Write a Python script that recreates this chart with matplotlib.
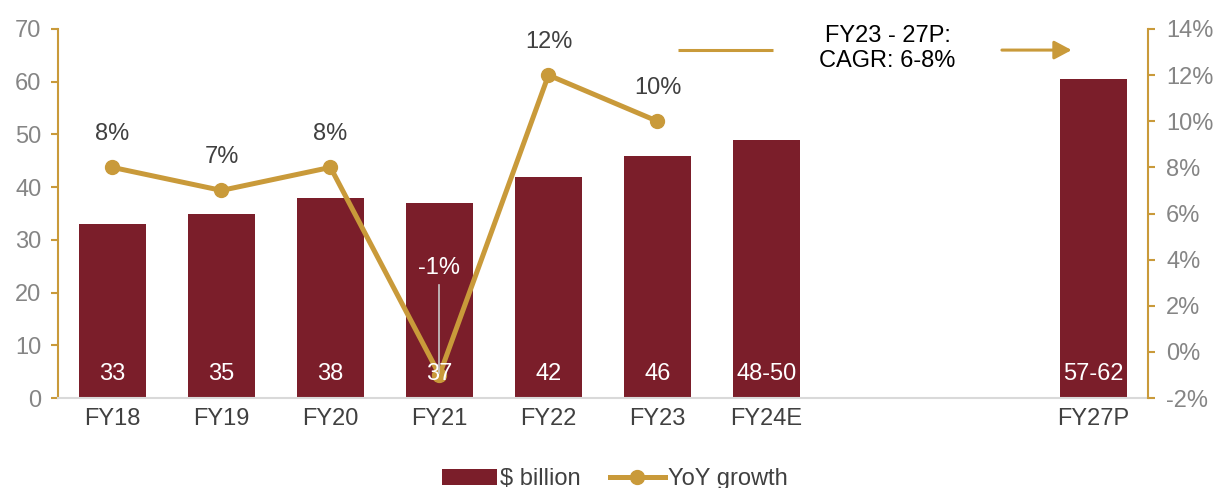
import matplotlib
matplotlib.use("Agg")
import matplotlib.pyplot as plt
from matplotlib.lines import Line2D
from matplotlib.patches import Patch
import numpy as np

plt.rcParams['font.family'] = ['Liberation Sans', 'DejaVu Sans']

categories = ["FY18", "FY19", "FY20", "FY21", "FY22", "FY23", "FY24E", "", "", "FY27P"]
bar_values = [33, 35, 38, 37, 42, 46, 49, None, None, 60.5]
bar_labels = ["33", "35", "38", "37", "42", "46", "48-50", "", "", "57-62"]
growth = [8, 7, 8, -1, 12, 10]
growth_labels = ["8%", "7%", "8%", "-1%", "12%", "10%"]

BAR_C = "#7B1E2A"
LINE_C = "#C99A3A"
GREY = "#858585"
DARK = "#404040"
FS = 17

fig = plt.figure(figsize=(12.18, 4.88), dpi=100)
ax = fig.add_axes([0.0476, 0.1844, 0.8949, 0.7562])
ax2 = ax.twinx()
ax2.set_zorder(ax.get_zorder() + 1)
ax2.patch.set_visible(False)

x = np.arange(len(categories))
bx = [xi for xi, v in zip(x, bar_values) if v is not None]
bv = [v for v in bar_values if v is not None]
bl = [l for l, v in zip(bar_labels, bar_values) if v is not None]
ax.bar(bx, bv, width=0.62, color=BAR_C, zorder=2)

ax.set_xlim(-0.5, len(categories) - 0.5)
ax.set_ylim(0, 70)
ax.set_yticks(range(0, 71, 10))
ax.set_xticks(x)
ax.set_xticklabels(categories)
ax.tick_params(axis="x", length=0, labelsize=FS, labelcolor=DARK, pad=7)
ax.tick_params(axis="y", length=5, width=1.5, color=LINE_C, labelsize=FS, labelcolor=GREY, pad=7)
for s in ["top", "right"]:
    ax.spines[s].set_visible(False)
ax.spines["left"].set_color(LINE_C)
ax.spines["left"].set_linewidth(1.5)
ax.spines["bottom"].set_color("#D9D9D9")
ax.spines["bottom"].set_linewidth(1.5)

gx = x[:len(growth)]
ax2.plot(gx, growth, color=LINE_C, lw=3.6, marker="o", ms=10, zorder=4)
ax2.set_ylim(-2, 14)
ax2.set_yticks(range(-2, 15, 2))
ax2.set_yticklabels([f"{t}%" for t in range(-2, 15, 2)])
ax2.tick_params(axis="y", length=5, width=1.5, color=LINE_C, labelsize=FS, labelcolor=GREY, pad=8)
for s in ["top", "left", "bottom"]:
    ax2.spines[s].set_visible(False)
ax2.spines["right"].set_color(LINE_C)
ax2.spines["right"].set_linewidth(1.5)

# bar value labels on top of the line
for xi, l in zip(bx, bl):
    ax2.annotate(l, (xi, 0), xycoords=ax.transData, xytext=(0, 17), textcoords="offset points",
                 ha="center", va="center", color="white", fontsize=FS, zorder=6)

for xi, g, l in zip(gx, growth, growth_labels):
    if g < 0:
        ax2.annotate(l, (xi, g), xytext=(0, 77), textcoords="offset points",
                     ha="center", va="center", color="white", fontsize=FS, zorder=6)
        ax2.plot([xi, xi], [g + 0.1, g + 3.9], color="#C8C8C8", lw=1.2, zorder=7)
    else:
        ax2.annotate(l, (xi, g), xytext=(0, 24), textcoords="offset points",
                     ha="center", va="center", color=DARK, fontsize=FS, zorder=6)

# CAGR annotation
ax.plot([5.19, 6.06], [66, 66], color=LINE_C, lw=2.2, solid_capstyle="butt", zorder=3)
ax.annotate("", xy=(8.8, 66), xytext=(8.16, 66),
            arrowprops=dict(arrowstyle="-|>,head_length=0.75,head_width=0.4",
                            mutation_scale=14, color=LINE_C, lw=2.2, shrinkA=0, shrinkB=0), zorder=3)
ax.text(7.11, 66.3, "FY23 - 27P:\nCAGR: 6-8%", ha="center", va="center",
        fontsize=FS, color="black", linespacing=1.15, zorder=3)

handles = [Patch(facecolor=BAR_C, edgecolor="none"),
           Line2D([0], [0], color=LINE_C, lw=3.6, marker="o", ms=10)]
fig.legend(handles, ["$ billion", "YoY growth"], loc="center", bbox_to_anchor=(0.505, 0.018),
           ncol=2, frameon=False, fontsize=FS, labelcolor=DARK, handlelength=2.3,
           handletextpad=0.15, columnspacing=1.25)

fig.savefig("out.png", dpi=100)
